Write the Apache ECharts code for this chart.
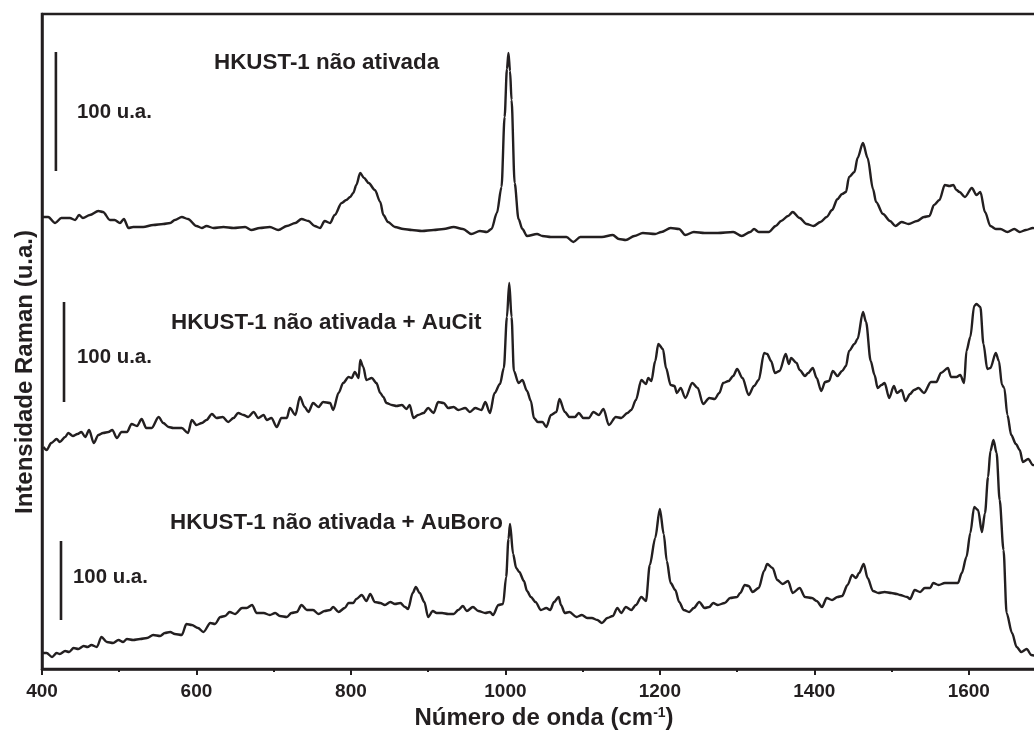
<!DOCTYPE html>
<html>
<head>
<meta charset="utf-8">
<script src="https://cdn.jsdelivr.net/npm/echarts@6/dist/echarts.min.js"></script>
<style>
html,body{margin:0;padding:0;background:#fff;}
#chart{width:1034px;height:731px;}
</style>
</head>
<body>
<div id="chart"></div>
<script>
// Wavenumber (cm-1) and stacked intensity (plot units, offsets included) for each spectrum
var xTop = [401,408,417,425,436,443,448,453,462,473,479,488,494,501,506,512,518,531,544,557,566,572,581,589,600,607,613,622,635,648,663,671,682,695,706,717,728,736,745,753,760,766,773,779,788,794,799,803,807,812,817,823,831,838,842,848,857,868,879,892,907,920,933,945,956,967,976,982,989,995,999,1002,1004,1006,1008,1012,1017,1022,1028,1041,1048,1059,1070,1079,1088,1097,1112,1125,1139,1147,1156,1167,1178,1194,1202,1214,1225,1233,1244,1258,1275,1295,1306,1317,1322,1328,1341,1350,1357,1366,1372,1381,1390,1399,1408,1416,1423,1430,1436,1441,1445,1452,1456,1463,1469,1476,1480,1489,1498,1505,1513,1522,1533,1542,1549,1555,1562,1569,1575,1580,1584,1588,1595,1604,1610,1615,1621,1628,1635,1641,1650,1659,1666,1674,1683,1690];
var yTop = [452,452,446,451,451,449,454,451,454,458,457,449,449,446,450,441,442,442,444,445,446,449,452,450,443,441,443,441,442,441,442,439,441,442,439,443,446,450,448,443,441,448,446,454,466,469,472,476,484,496,491,486,479,467,454,447,442,440,439,438,439,440,442,440,435,438,437,440,456,482,552,600,616,598,569,486,450,440,433,435,433,432,432,432,427,432,432,432,434,430,429,433,436,435,437,441,440,434,437,436,436,437,433,437,440,437,437,443,448,453,457,451,445,443,447,452,459,470,475,477,492,497,511,526,511,480,467,455,448,443,447,445,448,452,453,464,469,484,483,484,479,477,472,481,474,477,457,443,440,440,437,440,437,439,441,440];

var xMid = [402,406,412,419,423,430,434,440,446,451,456,461,467,473,479,486,491,497,503,510,516,523,529,535,542,551,557,564,570,581,589,594,600,607,613,620,626,634,641,648,654,661,667,674,680,687,691,697,704,710,717,721,728,734,740,745,751,758,764,773,777,784,790,797,801,805,810,812,816,820,827,833,838,842,846,853,859,866,872,876,881,887,894,900,907,913,920,926,933,939,948,954,961,969,974,980,986,993,998,1002,1005,1008,1011,1017,1022,1028,1033,1037,1042,1048,1053,1059,1066,1070,1077,1083,1090,1095,1101,1108,1114,1121,1127,1134,1143,1150,1158,1163,1169,1176,1182,1185,1189,1194,1198,1204,1208,1214,1219,1222,1227,1233,1242,1249,1256,1264,1271,1277,1282,1289,1295,1300,1307,1315,1322,1328,1335,1339,1344,1349,1355,1363,1367,1370,1377,1381,1388,1392,1398,1403,1409,1414,1419,1424,1430,1436,1441,1445,1452,1456,1463,1467,1473,1478,1482,1487,1491,1497,1503,1507,1513,1518,1524,1529,1535,1542,1551,1558,1564,1573,1577,1584,1589,1594,1597,1602,1607,1610,1615,1619,1624,1628,1635,1639,1643,1646,1650,1655,1661,1666,1670,1677,1683,1690];
var yMid = [222,219,226,230,227,232,236,233,235,237,232,239,226,234,236,237,239,231,237,237,245,243,250,241,241,252,246,242,241,241,236,249,244,246,249,255,251,252,247,251,256,254,252,257,251,254,249,251,242,251,251,261,254,272,262,257,266,262,267,266,259,276,286,292,291,297,291,309,302,289,291,286,276,272,266,264,263,264,260,264,251,254,256,261,256,267,266,261,262,259,261,257,261,259,267,256,276,285,301,352,386,352,298,286,289,278,268,251,247,247,242,254,257,270,257,252,252,256,251,251,257,254,260,244,252,251,256,259,269,289,285,291,288,308,325,320,301,284,283,276,281,271,286,281,265,271,270,276,286,288,293,300,291,274,283,289,316,315,308,296,298,315,305,311,306,299,293,296,301,291,278,287,288,298,293,298,303,318,325,330,357,347,308,294,281,284,286,271,283,276,279,268,275,279,281,276,287,287,296,301,292,292,294,286,318,332,363,365,362,325,300,301,316,308,284,281,254,234,225,219,207,210,204,203];

var xBot = [401,406,413,419,423,430,435,441,447,454,459,464,471,477,484,492,499,505,510,518,527,536,544,553,559,566,572,581,587,594,602,609,618,624,631,637,643,650,659,665,672,678,687,695,702,708,717,723,730,736,743,751,758,766,773,777,784,792,797,803,807,814,820,825,831,838,844,851,857,864,870,874,880,884,889,895,900,906,911,918,926,933,939,945,950,958,965,974,980,984,991,997,1001,1004,1006,1010,1014,1018,1024,1028,1033,1039,1046,1053,1058,1063,1069,1072,1077,1083,1092,1099,1106,1112,1119,1125,1132,1139,1145,1150,1156,1163,1169,1176,1182,1187,1194,1200,1205,1209,1214,1220,1225,1231,1238,1244,1251,1258,1264,1269,1275,1284,1291,1300,1304,1310,1315,1320,1328,1335,1339,1346,1352,1359,1366,1372,1381,1388,1397,1403,1410,1416,1423,1430,1436,1443,1449,1454,1458,1464,1469,1476,1483,1491,1500,1507,1511,1520,1524,1530,1537,1543,1550,1554,1561,1569,1578,1586,1591,1597,1602,1607,1612,1617,1621,1625,1628,1632,1636,1640,1645,1649,1656,1662,1668,1675,1681,1690];
var yBot = [16,16,12,16,15,18,17,21,20,23,22,24,22,32,27,26,29,27,30,29,30,31,34,33,36,37,35,34,45,44,41,37,46,45,52,53,57,55,61,61,64,56,56,54,56,53,52,56,57,64,59,59,55,58,59,62,57,61,66,66,70,74,68,75,67,66,64,67,65,66,62,60,76,82,76,67,52,58,56,56,55,55,59,63,58,62,58,56,57,54,64,65,92,130,145,115,101,97,88,78,72,67,59,61,59,67,72,64,56,57,52,54,51,51,49,46,51,53,61,56,62,59,64,72,68,104,131,160,135,108,86,79,67,59,57,61,67,61,62,66,64,66,71,72,76,84,83,77,81,98,105,101,89,85,88,76,81,72,71,68,62,71,69,72,73,84,94,91,96,105,91,78,76,77,76,75,74,72,70,79,77,81,81,86,84,86,86,86,96,112,136,162,159,137,156,192,218,229,216,169,119,56,36,22,17,20,14,12];

// Scale bars (100 u.a. each, drawn in the same plot units)
var barX = [418, 428.5, 424.6];
var barLow = [498, 267, 49];
var barHigh = [617, 367, 128];

var spectrumNames = ['HKUST-1 não ativada', 'HKUST-1 não ativada + AuCit', 'HKUST-1 não ativada + AuBoro'];
var scaleLabel = '100 u.a.';
var xTicks = [400, 600, 800, 1000, 1200, 1400, 1600];

var INK = '#231f20';
var FONT = '"Liberation Sans", Arial, Helvetica, sans-serif';

function pairs(xs, ys) { return xs.map(function (x, i) { return [x, ys[i]]; }); }

var series = [
  [xTop, yTop], [xMid, yMid], [xBot, yBot]
].map(function (s, i) {
  return {
    type: 'line', name: spectrumNames[i], data: pairs(s[0], s[1]),
    showSymbol: false, smooth: 0.3, smoothMonotone: 'x',
    lineStyle: { color: INK, width: 2.4 }, silent: true, z: 3
  };
});
barX.forEach(function (bx, i) {
  series.push({
    type: 'line', data: [[bx, barLow[i]], [bx, barHigh[i]]],
    showSymbol: false, lineStyle: { color: INK, width: 2.6 }, silent: true, z: 3
  });
});

var chart = echarts.init(document.getElementById('chart'), null, { renderer: 'canvas' });
var labelStyle = function (txt, size) {
  return { text: txt, fill: INK, font: 'bold ' + size + 'px ' + FONT, textAlign: 'left', textVerticalAlign: 'middle' };
};
chart.setOption({
  animation: false,
  backgroundColor: '#fff',
  grid: { left: 42, width: 1004, top: 14, height: 655, outerBoundsMode: 'none', containLabel: false,
          show: true, borderColor: INK, borderWidth: 2.5, backgroundColor: 'transparent' },
  xAxis: {
    type: 'value', min: 400, max: 1700, interval: 200,
    axisLine: { show: true, lineStyle: { color: INK, width: 2.5 } },
    axisTick: { show: true, inside: false, length: 6, lineStyle: { color: INK, width: 2 } },
    minorTick: { show: true, splitNumber: 2, length: 3, lineStyle: { color: INK, width: 2 } },
    splitLine: { show: false },
    axisLabel: {
      margin: 13, color: INK, fontSize: 19, fontWeight: 'bold', fontFamily: FONT,
      formatter: function (v) { return xTicks.indexOf(v) >= 0 ? String(v) : ''; }
    },
    name: 'Número de onda (cm{sup|-1})',
    nameLocation: 'middle', nameGap: 36,
    nameTextStyle: {
      color: INK, fontSize: 24, fontWeight: 'bold', fontFamily: FONT,
      rich: { sup: { fontSize: 14, fontWeight: 'bold', fontFamily: FONT, color: INK, verticalAlign: 'top', lineHeight: 14 } }
    }
  },
  yAxis: {
    type: 'value', min: 0, max: 655,
    axisLine: { show: true, lineStyle: { color: INK, width: 2.5 } },
    axisTick: { show: false }, axisLabel: { show: false }, splitLine: { show: false }
  },
  series: series,
  graphic: [
    { type: 'text', x: 214, y: 63, style: labelStyle(spectrumNames[0], 22.4), z: 10 },
    { type: 'text', x: 77, y: 112, style: labelStyle(scaleLabel, 20.4), z: 10 },
    { type: 'text', x: 171, y: 323, style: labelStyle(spectrumNames[1], 22.4), z: 10 },
    { type: 'text', x: 77, y: 357, style: labelStyle(scaleLabel, 20.4), z: 10 },
    { type: 'text', x: 170, y: 523, style: labelStyle(spectrumNames[2], 22.4), z: 10 },
    { type: 'text', x: 73, y: 577, style: labelStyle(scaleLabel, 20.4), z: 10 },
    { type: 'text', x: 25, y: 372, rotation: Math.PI / 2,
      style: { text: 'Intensidade Raman (u.a.)', fill: INK, font: 'bold 24px ' + FONT, textAlign: 'center', textVerticalAlign: 'middle' }, z: 10 }
  ]
});
</script>
</body>
</html>
